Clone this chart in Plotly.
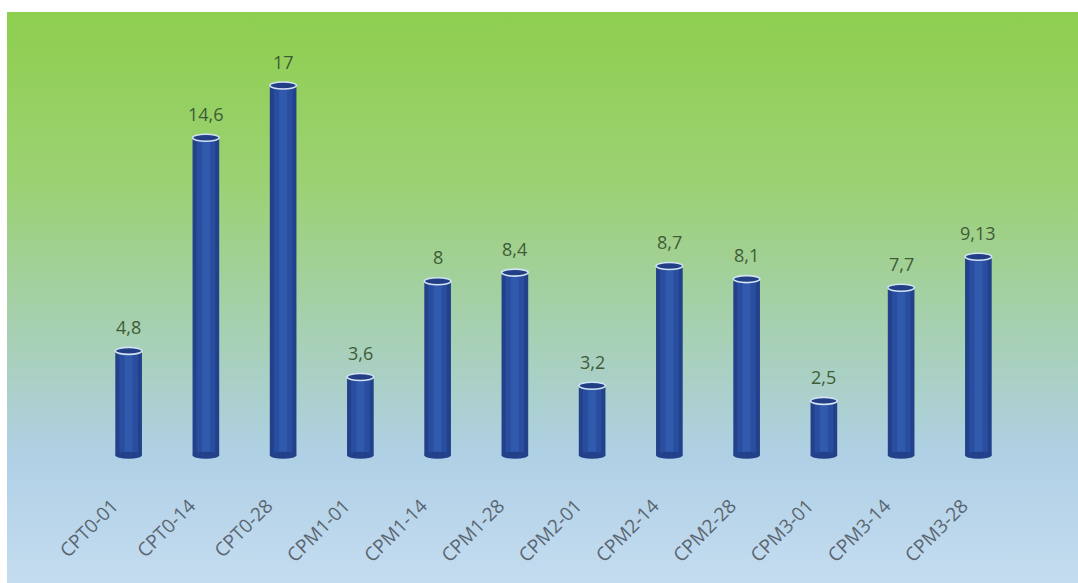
import base64
import plotly.graph_objects as go

categories = ["CPT0-01", "CPT0-14", "CPT0-28", "CPM1-01", "CPM1-14", "CPM1-28",
              "CPM2-01", "CPM2-14", "CPM2-28", "CPM3-01", "CPM3-14", "CPM3-28"]
values = [4.8, 14.6, 17, 3.6, 8, 8.4, 3.2, 8.7, 8.1, 2.5, 7.7, 9.13]
value_labels = [f"{v:g}".replace(".", ",") for v in values]

W, H = 1078, 583
ML, MR, MT, MB = 90, 61, 44, 119
Y_RANGE = [-0.4, 18.91]
BAR_W = 0.345

plot_w = W - ML - MR
plot_h = H - MT - MB
px_per_unit = plot_h / (Y_RANGE[1] - Y_RANGE[0])

# gradient background as svg image
svg = ('<svg xmlns="http://www.w3.org/2000/svg" width="100" height="100" preserveAspectRatio="none">'
       '<defs><linearGradient id="g" x1="0" y1="0" x2="0" y2="1">'
       '<stop offset="0" stop-color="#8ECF4F"/>'
       '<stop offset="0.3" stop-color="#9CD173"/>'
       '<stop offset="0.55" stop-color="#A6D0B0"/>'
       '<stop offset="0.78" stop-color="#B0D0E6"/>'
       '<stop offset="1" stop-color="#C4DCF0"/>'
       '</linearGradient></defs><rect width="100" height="100" fill="url(#g)"/></svg>')
svg_uri = "data:image/svg+xml;base64," + base64.b64encode(svg.encode()).decode()

bg_left, bg_top = 7, 12
img_x = (bg_left - ML) / plot_w
img_y = (H - MB - bg_top) / plot_h
img_sx = (W - bg_left) / plot_w
img_sy = (H - bg_top) / plot_h

fig = go.Figure()
fig.add_trace(go.Bar(x=categories, y=values, width=BAR_W, marker=dict(color="#22418A", line=dict(width=0)),
                     hoverinfo="skip"))
fig.add_trace(go.Bar(x=categories, y=values, width=BAR_W * 0.7, marker=dict(color="#2A4E9F", line=dict(width=0)),
                     hoverinfo="skip"))
fig.add_trace(go.Bar(x=categories, y=values, width=BAR_W * 0.3, marker=dict(color="#3159AC", line=dict(width=0)),
                     hoverinfo="skip"))

e = 3.5 / px_per_unit
shapes = []
for i, v in enumerate(values):
    # bottom rounding
    shapes.append(dict(type="circle", xref="x", yref="y", x0=i - BAR_W / 2, x1=i + BAR_W / 2,
                       y0=-e, y1=e, fillcolor="#22418A", line=dict(width=0), layer="above"))
    # top cap
    shapes.append(dict(type="circle", xref="x", yref="y", x0=i - BAR_W / 2, x1=i + BAR_W / 2,
                       y0=v - e, y1=v + e, fillcolor="#223F86", line=dict(color="#D2E3F3", width=1.6),
                       layer="above"))

annotations = []
for c, v, t in zip(categories, values, value_labels):
    annotations.append(dict(x=c, y=v, text=t, showarrow=False, yshift=24,
                            font=dict(family="Open Sans", size=18, color="#3F5C36")))

fig.update_layout(
    width=W, height=H,
    margin=dict(l=ML, r=MR, t=MT, b=MB),
    paper_bgcolor="white", plot_bgcolor="rgba(0,0,0,0)",
    barmode="overlay", showlegend=False,
    shapes=shapes, annotations=annotations,
    images=[dict(source=svg_uri, xref="paper", yref="paper", x=img_x, y=img_y,
                 sizex=img_sx, sizey=img_sy, xanchor="left", yanchor="top",
                 sizing="stretch", layer="below")],
    xaxis=dict(range=[-0.5, 11.5], showgrid=False, showline=False, zeroline=False,
               tickangle=-45, ticklabelstandoff=26, ticklabelshift=-16,
               tickfont=dict(family="Open Sans", size=19, color="#5A6570")),
    yaxis=dict(range=Y_RANGE, visible=False, showgrid=False, zeroline=False),
)

fig.write_html("out.html")
